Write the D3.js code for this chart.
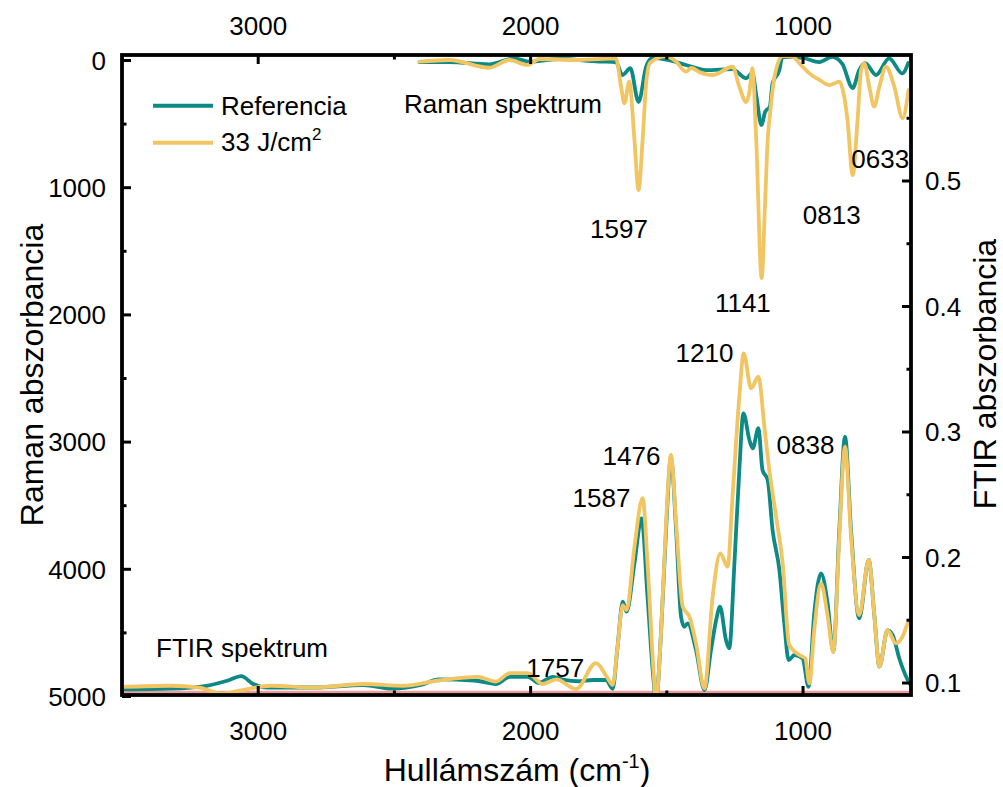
<!DOCTYPE html>
<html><head><meta charset="utf-8">
<script src="https://cdn.jsdelivr.net/npm/d3@7"></script>
<style>
html,body{margin:0;padding:0;background:#fff;}
text{font-family:"Liberation Sans",Arial,sans-serif;fill:#000;}
</style></head>
<body><svg id="c" width="1003" height="787"></svg>
<script>
// ---- data ----
const seriesNames = ["Referencia", "33 J/cm2"];
const xTicksMajor = [3000, 2000, 1000];
const xTicksMinor = [2500, 1500];
const ramanTicksMajor = [0, 1000, 2000, 3000, 4000, 5000];
const ramanTicksMinor = [500, 1500, 2500, 3500, 4500];
const ftirTicksMajor = [0.1, 0.2, 0.3, 0.4, 0.5];
const ftirTicksMinor = [0.15, 0.25, 0.35, 0.45, 0.55];

// Raman spectra: [wavenumber, Raman absorbance] (plotted downward)
const ramanRef = [[2406,16],[2296,16],[2150,34],[2058,-12],[2000,13],[1893,-8],[1746,12],[1685,16],[1661,118],[1632,65],[1602,330],[1574,53],[1551,-16],[1478,8],[1428,39],[1354,79],[1258,71],[1207,144],[1184,102],[1170,275],[1151,511],[1137,406],[1120,367],[1110,183],[1085,79],[1074,-24],[1000,-16],[938,16],[891,-24],[854,31],[816,220],[792,79],[770,24],[730,118],[682,-13],[634,105],[612,24]];
const raman33 = [[2406,13],[2296,0],[2150,61],[2076,0],[2010,39],[1966,-8],[1819,0],[1685,-13],[1666,212],[1654,340],[1636,171],[1617,629],[1602,1022],[1587,629],[1573,157],[1559,20],[1501,-31],[1464,13],[1428,92],[1408,63],[1379,94],[1330,118],[1257,53],[1232,210],[1207,330],[1195,250],[1184,65],[1170,629],[1150,1714],[1138,1153],[1128,629],[1119,417],[1103,131],[1073,-31],[1036,-24],[1006,39],[975,105],[938,157],[902,197],[865,171],[847,289],[835,472],[816,904],[798,472],[785,79],[773,26],[755,210],[737,367],[718,210],[694,53],[663,210],[633,458],[611,236]];

// FTIR spectra: [wavenumber, FTIR absorbance]
const ftirRef = [[3500,0.0945],[3319,0.0951],[3188,0.0974],[3109,0.1016],[3060,0.1051],[3017,0.0988],[2965,0.096],[2795,0.096],[2612,0.098],[2506,0.0951],[2401,0.098],[2336,0.1025],[2205,0.1016],[2126,0.0988],[2074,0.1045],[2008,0.1045],[1969,0.0996],[1916,0.1045],[1874,0.102],[1824,0.101],[1770,0.102],[1721,0.102],[1697,0.095],[1679,0.1285],[1660,0.1644],[1646,0.1564],[1617,0.195],[1591,0.2308],[1569,0.1683],[1548,0.1046],[1538,0.085],[1519,0.1418],[1501,0.2215],[1483,0.2787],[1464,0.2215],[1446,0.1524],[1434,0.1444],[1422,0.1471],[1391,0.1259],[1360,0.094],[1336,0.1259],[1317,0.1498],[1303,0.1604],[1281,0.1338],[1269,0.1272],[1250,0.195],[1232,0.2693],[1217,0.3145],[1195,0.2932],[1183,0.2866],[1162,0.3026],[1147,0.2693],[1128,0.2614],[1110,0.2215],[1085,0.1896],[1067,0.1471],[1051,0.1179],[1030,0.1219],[1000,0.1193],[978,0.0966],[957,0.1551],[932,0.187],[908,0.1631],[887,0.1245],[865,0.2215],[844,0.2959],[822,0.2215],[792,0.1511],[757,0.1976],[737,0.1551],[718,0.1126],[688,0.1418],[669,0.1378],[645,0.1193],[614,0.102],[600,0.097]];
const ftir33 = [[3500,0.0965],[3319,0.0974],[3214,0.096],[3135,0.0911],[3056,0.094],[2952,0.0974],[2795,0.096],[2611,0.0988],[2467,0.0974],[2336,0.1016],[2191,0.1045],[2126,0.1008],[2074,0.1074],[2008,0.1074],[1955,0.0988],[1904,0.1025],[1831,0.0948],[1759,0.1155],[1715,0.1033],[1697,0.098],[1679,0.1285],[1660,0.1617],[1646,0.1577],[1617,0.2082],[1587,0.2468],[1569,0.195],[1548,0.1126],[1538,0.085],[1519,0.1418],[1501,0.2268],[1483,0.2813],[1464,0.2268],[1440,0.1604],[1415,0.1524],[1391,0.1311],[1360,0.0953],[1330,0.1683],[1302,0.2029],[1275,0.1923],[1257,0.248],[1232,0.3277],[1216,0.3623],[1189,0.3344],[1162,0.3437],[1140,0.3038],[1122,0.2693],[1097,0.2321],[1073,0.195],[1049,0.1299],[1012,0.1219],[990,0.1193],[975,0.0993],[957,0.1418],[932,0.179],[908,0.153],[887,0.1245],[865,0.2162],[844,0.2879],[822,0.2162],[792,0.1538],[757,0.1976],[737,0.1551],[718,0.1126],[688,0.1418],[657,0.1312],[633,0.1365],[614,0.1471],[600,0.1514]];

// annotations: [text, wavenumber, value, axis]
const peakLabels = [["1597",1674,1399,"raman"],["1141",1219,1981,"raman"],["0813",893,1289,"raman"],["0633",715,849,"raman"],
  ["1210",1360,0.3554,"ftir"],["1476",1628,0.2733,"ftir"],["1587",1738,0.2398,"ftir"],["0838",989,0.2821,"ftir"],["1757",1908,0.1044,"ftir"]];
const sectionLabels = [["Raman spektrum",2463,417,"raman"],["FTIR spektrum",3373,0.1203,"ftir"]];

// ---- chart ----
const colors = ["#0e8a86", "#f0c562"];
const L = 122, R = 911, T = 55, B = 695;
const svg = d3.select("#c");
const x = d3.scaleLinear().domain([3500, 600]).range([121.5, 911.5]);
const yL = d3.scaleLinear().domain([0, 5000]).range([60, 696]);
const yR = d3.scaleLinear().domain([0.1, 0.5]).range([682.5, 180.5]);
const fs = 26;

svg.append("defs").append("clipPath").attr("id","clip")
  .append("rect").attr("x",L).attr("y",T).attr("width",R-L).attr("height",B-T);

const plot = svg.append("g").attr("clip-path","url(#clip)");
// baseline (pink)
plot.append("line").attr("x1",L).attr("x2",R).attr("y1",yR(0.0925)).attr("y2",yR(0.0925))
  .attr("stroke","#f29a9a").attr("stroke-width",2.5);

const lineR = d3.line().x(d=>x(d[0])).y(d=>yL(d[1])).curve(d3.curveMonotoneX);
const lineF = d3.line().x(d=>x(d[0])).y(d=>yR(d[1])).curve(d3.curveMonotoneX);
[[ramanRef,0,lineR],[ftirRef,0,lineF],[raman33,1,lineR],[ftir33,1,lineF]].forEach(([d,i,ln])=>{
  plot.append("path").attr("d", ln(d.slice().sort((a,b)=>a[0]-b[0])))
    .attr("fill","none").attr("stroke",colors[i]).attr("stroke-width",3.8)
    .attr("stroke-linejoin","round").attr("stroke-linecap","round");
});

// axes
function styleAxis(g){ g.select(".domain").remove(); g.selectAll(".tick line").attr("stroke","#000").attr("stroke-width",3);
  g.selectAll("text").style("font-size",fs+"px").style("font-family","'Liberation Sans',Arial,sans-serif"); }
const gb = svg.append("g").attr("transform",`translate(0,${B})`).call(d3.axisBottom(x).tickValues(xTicksMajor).tickSize(-9).tickFormat(d3.format("d"))).call(styleAxis);
gb.selectAll("text").attr("y",45).attr("dy",0);
svg.append("g").attr("transform",`translate(0,${B})`).call(d3.axisBottom(x).tickValues(xTicksMinor).tickSize(-4.5).tickFormat("")).call(styleAxis);
const gt = svg.append("g").attr("transform",`translate(0,${T})`).call(d3.axisTop(x).tickValues(xTicksMajor).tickSize(-9).tickFormat(d3.format("d"))).call(styleAxis);
gt.selectAll("text").attr("y",-20).attr("dy",0);
svg.append("g").attr("transform",`translate(0,${T})`).call(d3.axisTop(x).tickValues(xTicksMinor).tickSize(-4.5).tickFormat("")).call(styleAxis);
const gl = svg.append("g").attr("transform",`translate(${L},0)`).call(d3.axisLeft(yL).tickValues(ramanTicksMajor).tickSize(-9).tickFormat(d3.format("d"))).call(styleAxis);
gl.selectAll("text").attr("x",-16).attr("dy","0.36em");
svg.append("g").attr("transform",`translate(${L},0)`).call(d3.axisLeft(yL).tickValues(ramanTicksMinor).tickSize(-4.5).tickFormat("")).call(styleAxis);
const gr = svg.append("g").attr("transform",`translate(${R},0)`).call(d3.axisRight(yR).tickValues(ftirTicksMajor).tickSize(-9).tickFormat(d3.format(".1f"))).call(styleAxis);
gr.selectAll("text").attr("x",14).attr("dy","0.36em");
svg.append("g").attr("transform",`translate(${R},0)`).call(d3.axisRight(yR).tickValues(ftirTicksMinor).tickSize(-4.5).tickFormat("")).call(styleAxis);

// frame
svg.append("rect").attr("x",L).attr("y",T).attr("width",R-L).attr("height",B-T)
  .attr("fill","none").attr("stroke","#000").attr("stroke-width",3.8);

// labels
peakLabels.forEach(([t,w,v,ax])=>{
  svg.append("text").attr("x",x(w)).attr("y",ax==="raman"?yL(v):yR(v)).attr("text-anchor","middle")
    .style("font-size",fs+"px").text(t);
});
sectionLabels.forEach(([t,w,v,ax])=>{
  svg.append("text").attr("x",x(w)).attr("y",ax==="raman"?yL(v):yR(v))
    .style("font-size",fs+"px").text(t);
});

// legend
const leg = [[105.7,114.5],[142.7,151]];
leg.forEach(([ly,ty],i)=>{
  svg.append("line").attr("x1",153).attr("x2",213).attr("y1",ly).attr("y2",ly)
    .attr("stroke",colors[i]).attr("stroke-width",4);
});
svg.append("text").attr("x",221).attr("y",114.5).style("font-size",fs+"px").text(seriesNames[0]);
const t2 = svg.append("text").attr("x",221).attr("y",151).style("font-size",fs+"px");
t2.append("tspan").text("33 J/cm");
t2.append("tspan").attr("dy",-11).style("font-size","17px").text("2");

// axis titles
const tf = 32;
const xt = svg.append("text").attr("x",517).attr("y",781).attr("text-anchor","middle").style("font-size",tf+"px");
xt.append("tspan").text("Hullámszám (cm");
xt.append("tspan").attr("dy",-13).style("font-size","20px").text("-1");
xt.append("tspan").attr("dy",13).text(")");
svg.append("text").attr("transform","translate(43,375) rotate(-90)").attr("text-anchor","middle")
  .style("font-size",tf+"px").text("Raman abszorbancia");
svg.append("text").attr("transform","translate(996,374) rotate(-90)").attr("text-anchor","middle")
  .style("font-size",tf+"px").text("FTIR abszorbancia");
</script></body></html>
